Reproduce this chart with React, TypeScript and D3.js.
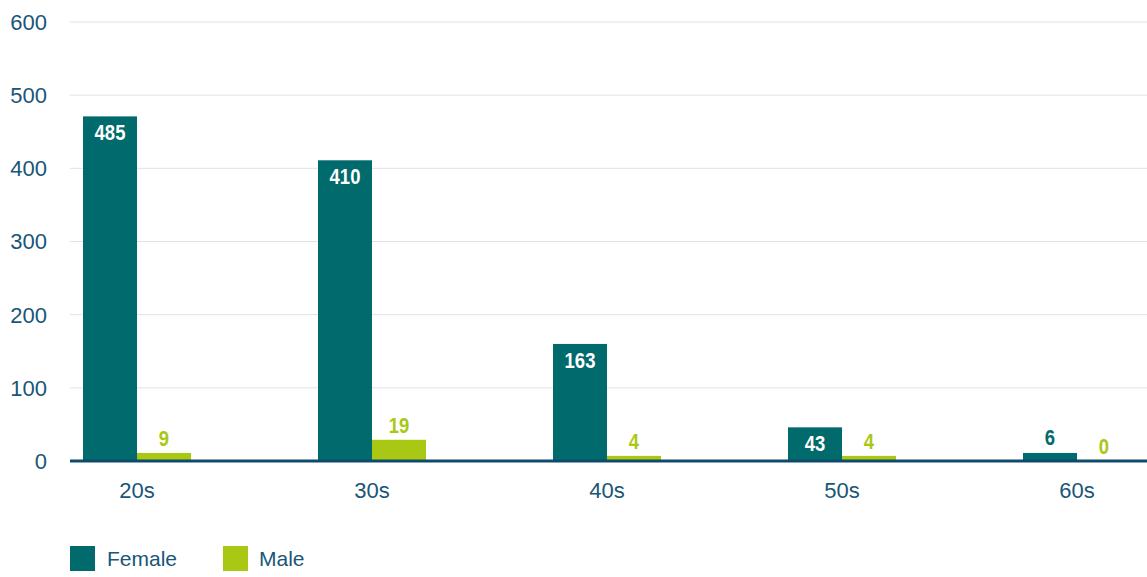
import React from 'react';
import * as d3 from 'd3';

// categories + values (bar heights, labels as printed)
const categories = ['20s', '30s', '40s', '50s', '60s'];
const female = [471, 411, 160, 46, 11];
const male = [11, 29, 7, 7, 0];
const femaleLabels = ['485', '410', '163', '43', '6'];
const maleLabels = ['9', '19', '4', '4', '0'];
const yTicks = [0, 100, 200, 300, 400, 500, 600];

const W = 1147;
const H = 577;
const TEAL = '#006a6d';
const LIME = '#a9c814';
const AXIS = '#195678';
const FONT = '"Liberation Sans", Arial, Helvetica, sans-serif';

// condensed bold value label (no narrow font installed, so squeeze it)
function ValueLabel({ x, y, fill, children }: { x: number; y: number; fill: string; children: React.ReactNode }) {
  return (
    <text
      transform={`translate(${x},${y}) scale(0.84,1)`}
      textAnchor="middle"
      fontFamily={FONT}
      fontWeight="bold"
      fontSize={22}
      fill={fill}
    >
      {children}
    </text>
  );
}

export default function App() {
  const x = d3.scalePoint<string>().domain(categories).range([137, 1077]);
  const y = d3.scaleLinear().domain([0, 600]).range([461, 22]);
  const bw = 54;
  const gridX0 = 70;

  return (
    <div style={{ position: 'fixed', left: 0, top: 0, width: W, height: H, background: '#fff' }}>
      <svg width={W} height={H} style={{ display: 'block' }}>
        {/* gridlines + y labels */}
        {yTicks.map(t => (
          <g key={t}>
            {t > 0 && (
              <line x1={gridX0} x2={W} y1={y(t)} y2={y(t)} stroke="#e2e2e2" strokeWidth={1} />
            )}
            <text x={47} y={y(t)} dy="0.36em" textAnchor="end" fontFamily={FONT} fontSize={22} fill={AXIS}>
              {t}
            </text>
          </g>
        ))}

        {/* bars */}
        {categories.map((c, i) => {
          const cx = x(c) ?? 0;
          const fTop = y(female[i]);
          const mTop = y(male[i]);
          const fInside = y(0) - fTop > 30;
          return (
            <g key={c}>
              <rect x={cx - bw} y={fTop} width={bw} height={y(0) - fTop} fill={TEAL} />
              <rect x={cx} y={mTop} width={bw} height={y(0) - mTop} fill={LIME} />
              <ValueLabel x={cx - bw / 2} y={fInside ? fTop + 24 : fTop - 8} fill={fInside ? '#fff' : TEAL}>
                {femaleLabels[i]}
              </ValueLabel>
              <ValueLabel x={cx + bw / 2} y={mTop - 7} fill={LIME}>
                {maleLabels[i]}
              </ValueLabel>
              <text x={cx} y={498} textAnchor="middle" fontFamily={FONT} fontSize={22} fill={AXIS}>
                {c}
              </text>
            </g>
          );
        })}

        {/* baseline */}
        <line x1={gridX0} x2={W} y1={y(0)} y2={y(0)} stroke="#0e4a6c" strokeWidth={3} />

        {/* legend */}
        <rect x={70} y={546} width={25} height={25} fill={TEAL} />
        <text x={107} y={566} fontFamily={FONT} fontSize={21} fill={AXIS}>Female</text>
        <rect x={223} y={546} width={25} height={25} fill={LIME} />
        <text x={259} y={566} fontFamily={FONT} fontSize={21} fill={AXIS}>Male</text>
      </svg>
    </div>
  );
}
